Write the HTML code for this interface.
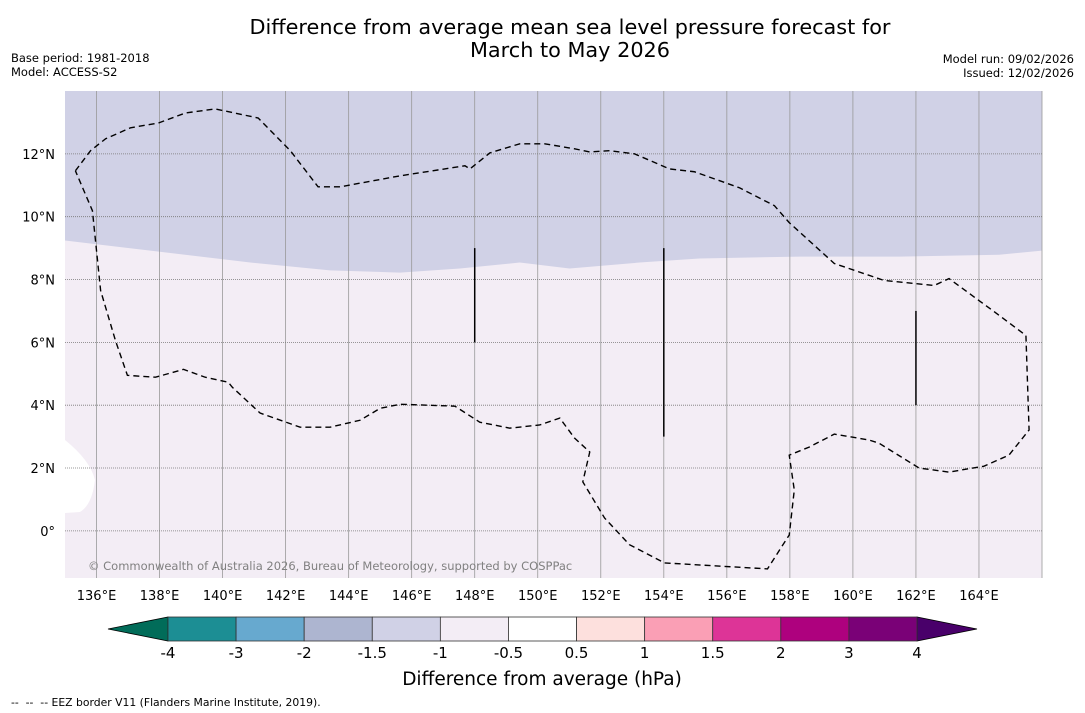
<!DOCTYPE html>
<html><head><meta charset="utf-8"><style>
body{margin:0;background:#fff;width:1085px;height:713px;overflow:hidden;font-family:"DejaVu Sans","Liberation Sans",sans-serif;}
svg{position:absolute;left:0;top:0}
</style></head><body>
<svg id="c" width="1085" height="713" viewBox="0 0 1085 713">
<text x="570" y="34" font-size="20.8" text-anchor="middle">Difference from average mean sea level pressure forecast for</text>
<text x="570" y="57" font-size="20.8" text-anchor="middle">March to May 2026</text>
<text x="11" y="62" font-size="11.5">Base period: 1981-2018</text>
<text x="11" y="76" font-size="11.5">Model: ACCESS-S2</text>
<text x="1074" y="63" font-size="11.5" text-anchor="end">Model run: 09/02/2026</text>
<text x="1074" y="77" font-size="11.5" text-anchor="end">Issued: 12/02/2026</text>
<text x="11" y="706" font-size="10.8" xml:space="preserve">--  --  -- EEZ border V11 (Flanders Marine Institute, 2019).</text>
<g id="map"></g>
<g id="cbar"></g>
</svg>
<script>
const lonTicks=[136,138,140,142,144,146,148,150,152,154,156,158,160,162,164];
const latTicks=[0,2,4,6,8,10,12];
const shadeLon=[135,137.71,140.88,143.41,145.63,147.53,149.43,151.01,153.23,155.13,158.3,161.47,164.64,166];
const shadeLat=[9.24,8.92,8.54,8.29,8.22,8.35,8.54,8.35,8.54,8.67,8.73,8.73,8.79,8.92];
const eezLon=[135.33,135.81,136.29,137.08,137.96,138.82,139.77,141.13,142.15,143.03,143.73,145.63,147.69,147.85,148.48,149.43,150.22,151.17,151.65,152.28,153.07,154.18,154.97,156.4,157.51,157.98,159.41,160.99,162.58,163.05,164.64,165.49,165.59,164.95,164.16,163.05,162.1,160.83,160.52,159.41,158.62,157.98,158.14,157.98,157.29,154.02,152.91,152.12,151.43,151.65,151.17,150.7,150.06,149.11,148.16,147.37,145.63,145,144.36,143.41,142.46,141.19,140.31,140.18,139.45,138.76,137.87,136.98,136.6,136.13,135.87,135.33];
const eezLat=[11.46,12.1,12.48,12.83,12.98,13.3,13.43,13.14,12.1,10.95,10.95,11.3,11.62,11.52,12.03,12.32,12.32,12.16,12.06,12.1,12,11.52,11.43,10.92,10.35,9.81,8.51,7.97,7.81,8.03,6.86,6.22,3.21,2.41,2.06,1.87,2,2.79,2.89,3.08,2.67,2.41,1.3,-0.13,-1.21,-1.02,-0.44,0.41,1.56,2.51,2.95,3.59,3.37,3.27,3.46,3.97,4.03,3.9,3.52,3.3,3.3,3.75,4.57,4.73,4.89,5.14,4.89,4.95,6.06,7.65,10.19,11.46];
const segLon=[148,154,162];
const segLat1=[9,9,7];
const segLat2=[6,3,4];
const cbLabels=["-4","-3","-2","-1.5","-1","-0.5","0.5","1","1.5","2","3","4"];
const cbColors=["#1c8e94","#67a9cf","#adb5d0","#d0d1e6","#f3edf5","#ffffff","#fde0dd","#fa9fb5","#dd3497","#ae017e","#7a0177"];
const NS="http://www.w3.org/2000/svg";
const X0=65,X1=1042,Y0=91,Y1=578,L0=135,L1=166,A0=-1.5,A1=14;
const xs=l=>X0+(l-L0)/(L1-L0)*(X1-X0);
const ys=a=>Y1-(a-A0)/(A1-A0)*(Y1-Y0);
function el(t,at,p){const e=document.createElementNS(NS,t);for(const k in at)e.setAttribute(k,at[k]);p.appendChild(e);return e;}
const map=document.getElementById('map');
const bg=el('rect',{x:X0,y:Y0,width:X1-X0,height:Y1-Y0,fill:'#f3edf5'},map);


let d=`M${X0},${Y0}`;
shadeLon.forEach((l,i)=>d+=` L${xs(l)},${ys(shadeLat[i])}`);
d+=` L${X1},${Y0}Z`;
const sh=el('path',{d:d,fill:'#d0d1e6'},map);


const land=el('path',{d:`M${X0},440 Q90,460 95,480 Q92,505 80,512 L${X0},513 Z`,fill:'#fff'},map);


lonTicks.concat([166]).forEach(l=>{const g=el('line',{x1:xs(l),x2:xs(l),y1:Y0,y2:Y1,stroke:'#999','stroke-width':0.8},map);

});
latTicks.forEach(a=>{const g=el('line',{x1:X0,x2:X1,y1:ys(a),y2:ys(a),stroke:'#777','stroke-width':0.8,'stroke-dasharray':'1,1'},map);

});
segLon.forEach((l,i)=>{const s=el('line',{x1:xs(l),x2:xs(l),y1:ys(segLat1[i]),y2:ys(segLat2[i]),stroke:'#000','stroke-width':1.5},map);

});
const ep=el('path',{d:eezLon.map((l,i)=>(i?'L':'M')+xs(l)+','+ys(eezLat[i])).join(' '),fill:'none',stroke:'#000','stroke-width':1.4,'stroke-dasharray':'6,4'},map);


lonTicks.forEach(l=>{const t=el('text',{x:xs(l),y:600,'font-size':13,'text-anchor':'middle'},map);t.textContent=l+'°E';

});
latTicks.forEach(a=>{const t=el('text',{x:55,y:ys(a)+5,'font-size':13,'text-anchor':'end'},map);t.textContent=a===0?'0°':a+'°N';

});
const cp=el('text',{x:88,y:570,'font-size':11.5,fill:'#808080'},map);cp.textContent='© Commonwealth of Australia 2026, Bureau of Meteorology, supported by COSPPac';


const cb=document.getElementById('cbar');
const CX0=168,CX1=917,CY0=617,CY1=641,bw=(CX1-CX0)/cbColors.length;
const la=el('polygon',{points:`108,629 ${CX0},${CY0} ${CX0},${CY1}`,fill:'#016c59',stroke:'#000','stroke-width':0.8},cb);


const ra=el('polygon',{points:`977,629 ${CX1},${CY0} ${CX1},${CY1}`,fill:'#49006a',stroke:'#000','stroke-width':0.8},cb);


cbColors.forEach((c,i)=>{const r=el('rect',{x:CX0+i*bw,y:CY0,width:bw,height:CY1-CY0,fill:c,stroke:'#333','stroke-width':0.8},cb);

});
cbLabels.forEach((s,i)=>{const t=el('text',{x:CX0+i*bw,y:658,'font-size':15,'text-anchor':'middle'},cb);t.textContent=s;

});
const ct=el('text',{x:542,y:685,'font-size':18.5,'text-anchor':'middle'},cb);ct.textContent='Difference from average (hPa)';


</script>
</body></html>
